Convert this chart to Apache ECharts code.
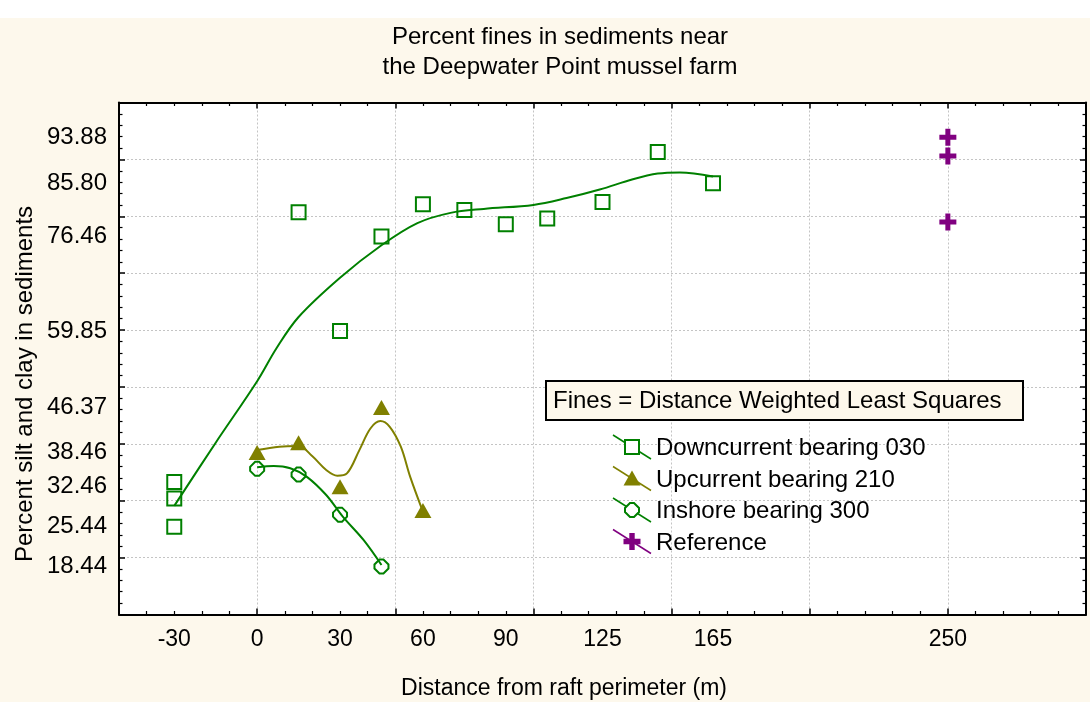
<!DOCTYPE html>
<html><head><meta charset="utf-8">
<script src="https://cdn.jsdelivr.net/npm/echarts@6/dist/echarts.min.js"></script>
<style>html,body{margin:0;padding:0;background:#fff}#c{width:1090px;height:702px}</style>
</head><body><div id="c"></div>
<script>
// ---- text ----
const titleText = 'Percent fines in sediments near\nthe Deepwater Point mussel farm';
const xAxisName = 'Distance from raft perimeter (m)';
const yAxisName = 'Percent silt and clay in sediments';
const legendTitle = 'Fines = Distance Weighted Least Squares';
const seriesNames = ['Downcurrent bearing 030', 'Upcurrent bearing 210', 'Inshore bearing 300', 'Reference'];

// ---- tick labels ----
const xTickLabels = [-30, 0, 30, 60, 90, 125, 165, 250];
const yTickLabels = [93.88, 85.80, 76.46, 59.85, 46.37, 38.46, 32.46, 25.44, 18.44];

// ---- observed points ----
const downX = [-30, -30, -30, 15, 30, 45, 60, 75, 90, 105, 125, 145, 165];
const downY = [33.3, 30.4, 25.44, 80.7, 59.85, 76.46, 82.1, 81.1, 78.6, 79.6, 82.5, 91.3, 85.80];
const upX = [0, 15, 30, 45, 60];
const upY = [38.46, 40.2, 32.46, 46.37, 28.3];
const inX = [0, 15, 30, 45];
const inY = [35.6, 34.6, 27.55, 18.44];
const refX = [250, 250, 250];
const refY = [93.88, 90.6, 79.0];

// ---- DWLS fitted curves ----
const downFitX = [-30, -15, 0, 7, 15, 30, 45, 58, 70, 82, 100, 112, 124, 136, 145, 153, 165];
const downFitY = [29.1, 40.2, 51.0, 56.8, 62.3, 69.2, 74.9, 78.8, 80.6, 81.3, 82.0, 83.2, 84.7, 86.5, 87.5, 87.7, 87.0];
const upFitX = [0, 8, 15, 20, 25, 29, 32.5, 37, 41, 44.6, 48, 52, 55.4, 60];
const upFitY = [38.9, 39.5, 39.6, 37.8, 35.4, 34.4, 34.8, 38.9, 42.7, 44.0, 43.0, 39.5, 34.2, 28.1];
const inFitX = [0, 6, 12, 18, 25, 31, 38.5, 45];
const inFitY = [35.9, 36.1, 35.7, 34.2, 31.0, 27.2, 23.1, 18.7];

// ---- styling ----
const GREEN = '#008000', OLIVE = '#808000', PURPLE = '#800080';
const FONT = '"Liberation Sans", Arial, sans-serif';
const CREAM = '#fdf8ec';
const zip = (a, b) => a.map((v, i) => [v, b[i]]);

const CROSS = 'path://M6,0H11V6H17V11H11V17H6V11H0V6H6Z';
const OCT = 'path://M6,1L10,1L15,6L15,10L10,15L6,15L1,10L1,6Z';

const chart = echarts.init(document.getElementById('c'), null, {renderer: 'canvas'});

const axisCommon = {
  axisLine: {show: true, onZero: false, lineStyle: {color: '#000', width: 2}},
  axisTick: {show: true, inside: true, length: 6, lineStyle: {color: '#000', width: 1.5}},
  minorTick: {show: true, splitNumber: 5, length: 3.5, lineStyle: {color: '#000', width: 1.2}},
};
const gridLine = {show: true, lineStyle: {color: '#c4c4c4', width: 1, type: [2, 2]}};

// legend graphic
const legendColors = [GREEN, OLIVE, GREEN, PURPLE];
const legendGraphic = [];
legendGraphic.push({type: 'rect', shape: {x: 546, y: 381, width: 477, height: 39},
  style: {fill: CREAM, stroke: '#000', lineWidth: 2}, z: 100});
legendGraphic.push({type: 'text', x: 553, y: 401, z: 101,
  style: {text: legendTitle, font: '24px ' + FONT, fill: '#000', verticalAlign: 'middle', align: 'left'}});
seriesNames.forEach((name, i) => {
  const cx = 632, cy = 447 + i * 31.5, col = legendColors[i];
  legendGraphic.push({type: 'line', z: 100, shape: {x1: cx - 19, y1: cy - 12, x2: cx + 19, y2: cy + 12},
    style: {stroke: col, lineWidth: 1.5}});
  let m;
  if (i === 0) m = {type: 'rect', shape: {x: cx - 7, y: cy - 7, width: 14, height: 14}, style: {fill: '#fff', stroke: col, lineWidth: 2}};
  else if (i === 1) m = {type: 'polygon', shape: {points: [[cx, cy - 8], [cx + 8.5, cy + 7], [cx - 8.5, cy + 7]]}, style: {fill: col}};
  else if (i === 2) m = {type: 'polygon', shape: {points: [[cx - 2, cy - 7], [cx + 2, cy - 7], [cx + 7, cy - 2], [cx + 7, cy + 2], [cx + 2, cy + 7], [cx - 2, cy + 7], [cx - 7, cy + 2], [cx - 7, cy - 2]]}, style: {fill: '#fff', stroke: col, lineWidth: 2}};
  else m = {type: 'polygon', shape: {points: [[cx - 2.7, cy - 8.5], [cx + 2.7, cy - 8.5], [cx + 2.7, cy - 2.7], [cx + 8.5, cy - 2.7], [cx + 8.5, cy + 2.7], [cx + 2.7, cy + 2.7], [cx + 2.7, cy + 8.5], [cx - 2.7, cy + 8.5], [cx - 2.7, cy + 2.7], [cx - 8.5, cy + 2.7], [cx - 8.5, cy - 2.7], [cx - 2.7, cy - 2.7]]}, style: {fill: col}};
  m.z = 101;
  legendGraphic.push(m);
  legendGraphic.push({type: 'text', x: 656, y: cy + 1.5, z: 101,
    style: {text: name, font: '24px ' + FONT, fill: '#000', verticalAlign: 'middle', align: 'left'}});
});

const option = {
  backgroundColor: CREAM,
  animation: false,
  title: {text: titleText, left: 560, top: 22, padding: 0, textAlign: 'center',
    textStyle: {fontFamily: FONT, fontSize: 24, fontWeight: 'normal', color: '#000', lineHeight: 30}},
  grid: {left: 119, right: 4, top: 102.5, bottom: 87.5, show: true, backgroundColor: '#fff', borderWidth: 0},
  xAxis: [
    Object.assign({type: 'value', min: -50, max: 300, interval: 50, position: 'bottom',
      splitLine: gridLine,
      axisLabel: {customValues: xTickLabels, margin: 14, fontFamily: FONT, fontSize: 23, color: '#000'}}, axisCommon),
    Object.assign({type: 'value', min: -50, max: 300, interval: 50, position: 'top',
      splitLine: {show: false}, axisLabel: {show: false}}, axisCommon)
  ],
  yAxis: [
    Object.assign({type: 'value', min: 10, max: 100, interval: 10, position: 'left',
      splitLine: gridLine,
      axisLabel: {customValues: yTickLabels, margin: 12, fontFamily: FONT, fontSize: 24, color: '#000',
        formatter: v => Number(v).toFixed(2)}}, axisCommon),
    Object.assign({type: 'value', min: 10, max: 100, interval: 10, position: 'right',
      splitLine: {show: false}, axisLabel: {show: false}}, axisCommon)
  ],
  graphic: [
    {type: 'rect', shape: {x: 0, y: 0, width: 1090, height: 18}, style: {fill: '#fff'}, z: -1},
    {type: 'text', x: 564, y: 689, style: {text: xAxisName, font: '23px ' + FONT, fill: '#000', align: 'center', verticalAlign: 'middle'}},
    {type: 'text', x: 25, y: 384, rotation: Math.PI / 2, style: {text: yAxisName, font: '24px ' + FONT, fill: '#000', align: 'center', verticalAlign: 'middle'}},
  ].concat(legendGraphic),
  series: [
    {name: seriesNames[0] + ' fit', type: 'line', data: zip(downFitX, downFitY), smooth: 0.35, showSymbol: false,
      lineStyle: {color: GREEN, width: 2}, z: 2},
    {name: seriesNames[1] + ' fit', type: 'line', data: zip(upFitX, upFitY), smooth: 0.35, showSymbol: false,
      lineStyle: {color: OLIVE, width: 2}, z: 2},
    {name: seriesNames[2] + ' fit', type: 'line', data: zip(inFitX, inFitY), smooth: 0.35, showSymbol: false,
      lineStyle: {color: GREEN, width: 2}, z: 2},
    {name: seriesNames[0], type: 'scatter', data: zip(downX, downY), symbol: 'rect', symbolSize: 14,
      itemStyle: {color: 'rgba(255,255,255,0)', borderColor: GREEN, borderWidth: 2, opacity: 1}, z: 3},
    {name: seriesNames[1], type: 'scatter', data: zip(upX, upY), symbol: 'triangle', symbolSize: [17, 15],
      itemStyle: {color: OLIVE, opacity: 1}, z: 3},
    {name: seriesNames[2], type: 'scatter', data: zip(inX, inY), symbol: OCT, symbolSize: 14,
      itemStyle: {color: 'rgba(255,255,255,0)', borderColor: GREEN, borderWidth: 2, opacity: 1}, z: 3},
    {name: seriesNames[3], type: 'scatter', data: zip(refX, refY), symbol: CROSS, symbolSize: 17,
      itemStyle: {color: PURPLE, opacity: 1}, z: 3},
  ]
};
chart.setOption(option);
</script></body></html>
